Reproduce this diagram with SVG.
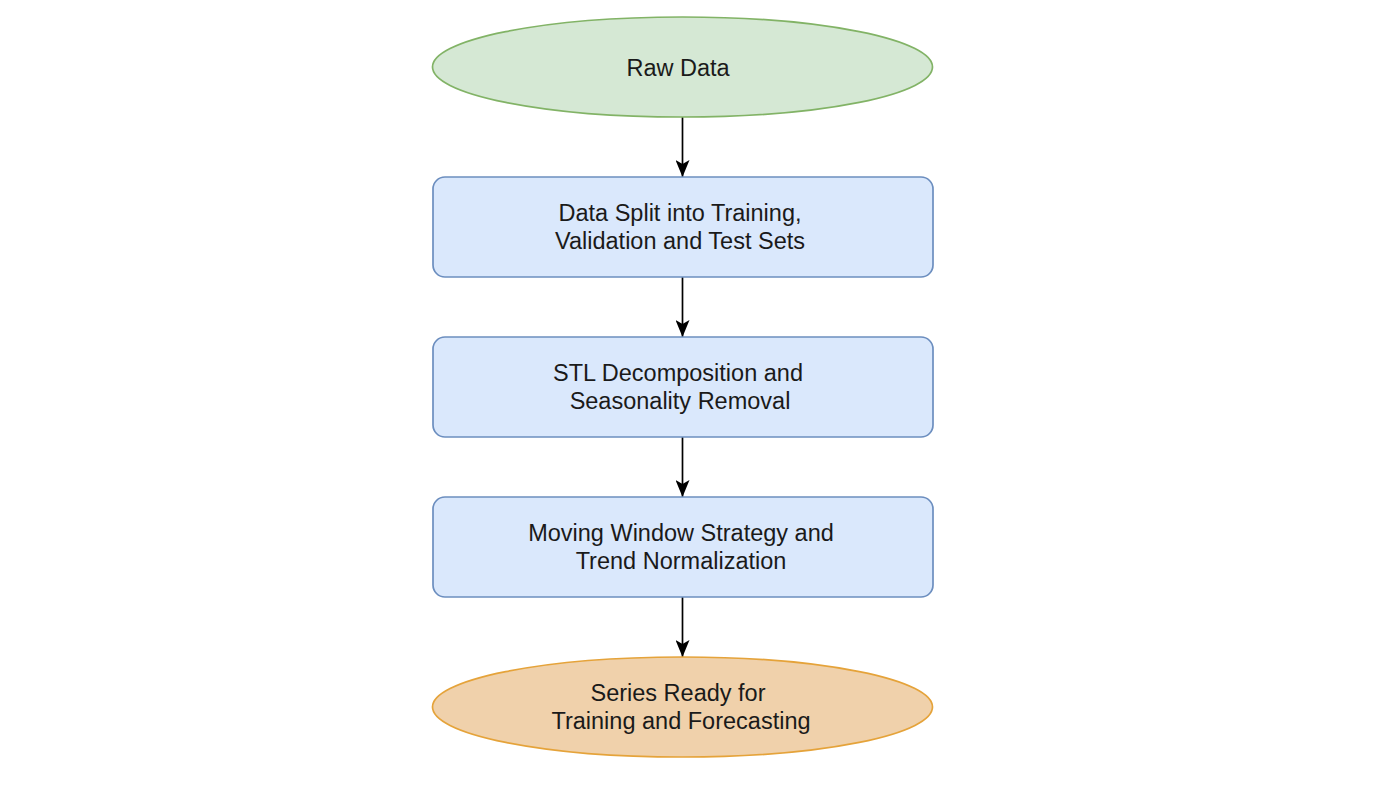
<svg xmlns="http://www.w3.org/2000/svg" width="1398" height="786" viewBox="0 0 1398 786">
<defs>
<style>
.t{font-family:"Liberation Sans",Arial,sans-serif;font-size:23.5px;fill:#1a1a1a;text-anchor:middle;dominant-baseline:central}
.box{fill:#dae8fc;stroke:#6c8ebf;stroke-width:1.7}
.edge{stroke:#000;stroke-width:1.7;fill:none;marker-end:url(#ah)}
</style>
<marker id="ah" viewBox="0 0 17 14" refX="17" refY="7" markerWidth="17" markerHeight="14" markerUnits="userSpaceOnUse" orient="auto">
<path d="M0,0 L17,7 L0,14 L4,7 Z" fill="#000"/>
</marker>
</defs>
<rect width="1398" height="786" fill="#fff"/>
<g id="connectors">
<line class="edge" x1="682.5" y1="117" x2="682.5" y2="177"/>
<line class="edge" x1="682.5" y1="277" x2="682.5" y2="337"/>
<line class="edge" x1="682.5" y1="437" x2="682.5" y2="497"/>
<line class="edge" x1="682.5" y1="597" x2="682.5" y2="657"/>
</g>
<g id="raw-data">
<ellipse cx="682.5" cy="67" rx="250" ry="50" fill="#d5e8d4" stroke="#82b366" stroke-width="1.7"/>
<text class="t" x="678" y="68">Raw Data</text>
</g>
<g id="data-split">
<rect class="box" x="433" y="177" width="500" height="100" rx="12"/>
<text class="t" x="680" y="213">Data Split into Training,</text>
<text class="t" x="680" y="241">Validation and Test Sets</text>
</g>
<g id="stl">
<rect class="box" x="433" y="337" width="500" height="100" rx="12"/>
<text class="t" x="678" y="373">STL Decomposition and</text>
<text class="t" x="680" y="401">Seasonality Removal</text>
</g>
<g id="moving-window">
<rect class="box" x="433" y="497" width="500" height="100" rx="12"/>
<text class="t" x="681" y="533">Moving Window Strategy and</text>
<text class="t" x="681" y="561">Trend Normalization</text>
</g>
<g id="series-ready">
<ellipse cx="682.5" cy="707" rx="250" ry="50" fill="#f0d1ab" stroke="#e5a33a" stroke-width="1.7"/>
<text class="t" x="678" y="693">Series Ready for</text>
<text class="t" x="681" y="721">Training and Forecasting</text>
</g>
</svg>
